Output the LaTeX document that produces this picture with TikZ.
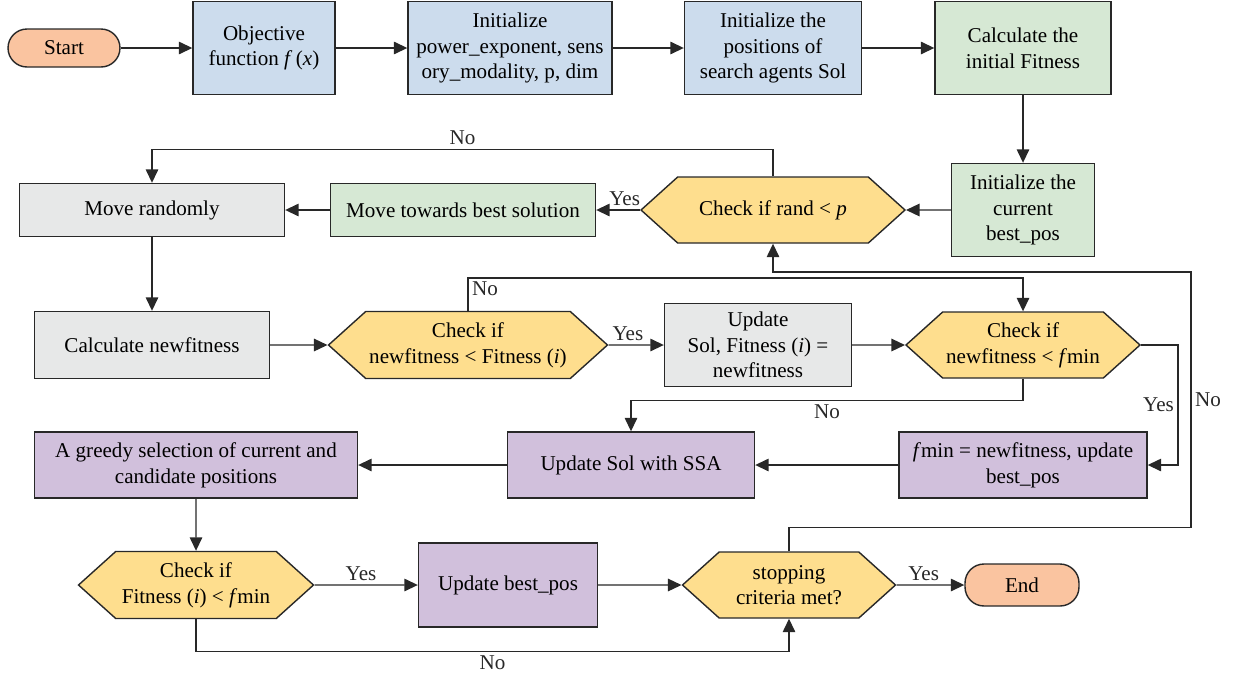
\documentclass[tikz,border=0pt]{standalone}
\usepackage{fontspec}
\setmainfont{Liberation Serif}
\usepackage{xcolor}
\usetikzlibrary{positioning,arrows.meta,shapes.symbols}
\definecolor{ssaorange}{RGB}{250,196,160}
\definecolor{ssablue}{RGB}{204,220,237}
\definecolor{ssagreen}{RGB}{214,232,212}
\definecolor{ssagray}{RGB}{231,232,232}
\definecolor{ssayellow}{RGB}{254,222,142}
\definecolor{ssapurple}{RGB}{209,192,220}
\definecolor{ssaline}{RGB}{40,40,40}
\tikzset{
  box/.style={draw=ssaline, line width=0.8pt, align=center, inner sep=2pt, font=\rmfamily\fontsize{12}{14.6}\selectfont},
  term/.style={box, fill=ssaorange, rounded corners=0.38cm},
  hexbox/.style={box, fill=ssayellow, shape=signal, signal to=west and east, signal pointer angle=84},
  arrow/.style={-{Triangle[length=2.7mm, width=2.5mm]}, line width=0.8pt, ssaline},
  lbl/.style={font=\rmfamily\fontsize{12}{14.6}\selectfont, inner sep=2pt}
}

\begin{document}
\begin{tikzpicture}[x=0.02cm, y=-0.02cm]
    \useasboundingbox (0,0) rectangle (1237,680);
    % top row
    \node[term, minimum width=2.24cm, minimum height=0.76cm] (start) at (64,48) {Start};
    \node[box, fill=ssablue, minimum width=2.84cm, minimum height=1.86cm] (obj) at (264,48) {Objective\\function \textit{f}\,(\textit{x})};
    \node[box, fill=ssablue, minimum width=4.08cm, minimum height=1.86cm] (initp) at (510,48) {Initialize\\power\_exponent, sens\\ory\_modality, p, dim};
    \node[box, fill=ssablue, minimum width=3.54cm, minimum height=1.86cm] (initpos) at (773,48) {Initialize the\\positions of\\search agents Sol};
    \node[box, fill=ssagreen, minimum width=3.52cm, minimum height=1.86cm] (calcfit) at (1023,48) {Calculate the\\initial Fitness};
    % second row
    \node[box, fill=ssagreen, minimum width=2.86cm, minimum height=1.86cm] (initbest) at (1023,210) {Initialize the\\current\\best\_pos};
    \node[hexbox, minimum width=5.28cm, minimum height=1.32cm] (chkrand) at (773,210) {Check if rand < \textit{p}};
    \node[box, fill=ssagreen, minimum width=5.3cm, minimum height=1.06cm] (movebest) at (463,210) {Move towards best solution};
    \node[box, fill=ssagray, minimum width=5.3cm, minimum height=1.06cm] (moverand) at (152,210) {Move randomly};
    % third row
    \node[box, fill=ssagray, minimum width=4.7cm, minimum height=1.34cm] (calcnew) at (152,345) {Calculate newfitness};
    \node[hexbox, minimum width=5.48cm, minimum height=1.34cm] (chknew) at (468,345) {Check if\\newfitness < Fitness (\textit{i})};
    \node[box, fill=ssagray, minimum width=3.74cm, minimum height=1.66cm] (updsol) at (758,345) {Update\\Sol, Fitness (\textit{i}) =\\newfitness};
    \node[hexbox, minimum width=4.66cm, minimum height=1.32cm] (chkmin) at (1023,345) {Check if\\newfitness < \textit{f}min};
    % fourth row
    \node[box, fill=ssapurple, minimum width=4.96cm, minimum height=1.32cm] (fminbox) at (1023,465) {\textit{f}min = newfitness, update\\best\_pos};
    \node[box, fill=ssapurple, minimum width=4.94cm, minimum height=1.32cm] (updssa) at (631,465) {Update Sol with SSA};
    \node[box, fill=ssapurple, minimum width=6.46cm, minimum height=1.32cm] (greedy) at (196,465) {A greedy selection of current and\\candidate positions};
    % bottom row
    \node[hexbox, minimum width=4.7cm, minimum height=1.34cm] (chkfit) at (196,585) {Check if\\Fitness (\textit{i}) < \textit{f}min};
    \node[box, fill=ssapurple, minimum width=3.58cm, minimum height=1.68cm] (updbest) at (508,585) {Update best\_pos};
    \node[hexbox, minimum width=4.26cm, minimum height=1.32cm] (stop) at (789,585) {stopping\\criteria met?};
    \node[term, minimum width=2.28cm, minimum height=0.84cm] (end) at (1022,585) {End};
    \coordinate (noret) at (1191,272);

    \draw[arrow] (start) -- (obj);
    \draw[arrow] (obj) -- (initp);
    \draw[arrow] (initp) -- (initpos);
    \draw[arrow] (initpos) -- (calcfit);
    \draw[arrow] (calcfit) -- (initbest);
    \draw[arrow] (initbest) -- (chkrand);
    \draw[arrow] (chkrand) -- node[lbl, above, pos=0.35] {Yes} (movebest);
    \draw[arrow] (movebest) -- (moverand);
    \draw[arrow] (chkrand.north) -- ++(0,-27) -| node[lbl, above, pos=0.25] {No} (moverand.north);
    \draw[arrow] (moverand) -- (calcnew);
    \draw[arrow] (calcnew) -- (chknew);
    \draw[arrow] (chknew) -- node[lbl, above, pos=0.35] {Yes} (updsol);
    \draw[arrow] (chknew.north) -- ++(0,-33) -| node[lbl, below right, pos=0] {No} (chkmin.north);
    \draw[arrow] (updsol) -- (chkmin);
    \draw[arrow] (chkmin.south) -- ++(0,22) -| node[lbl, below, pos=0.25] {No} (updssa.north);
    \draw[arrow] (chkmin.east) -- ++(37,0) |- node[lbl, left, pos=0.25] {Yes} (fminbox.east);
    \draw[arrow] (fminbox) -- (updssa);
    \draw[arrow] (updssa) -- (greedy);
    \draw[arrow] (greedy) -- (chkfit);
    \draw[arrow] (chkfit) -- node[lbl, above, pos=0.45] {Yes} (updbest);
    \draw[arrow] (updbest) -- (stop);
    \draw[arrow] (chkfit.south) -- ++(0,32) -| node[lbl, below, pos=0.25] {No} (stop.south);
    \draw[arrow] (stop) -- node[lbl, above, pos=0.4] {Yes} (end);
    \draw[arrow] (stop.north) -- ++(0,-24) -| node[lbl, right, pos=0.75] {No} (noret) -| (chkrand.south);
  \end{tikzpicture}
\end{document}
